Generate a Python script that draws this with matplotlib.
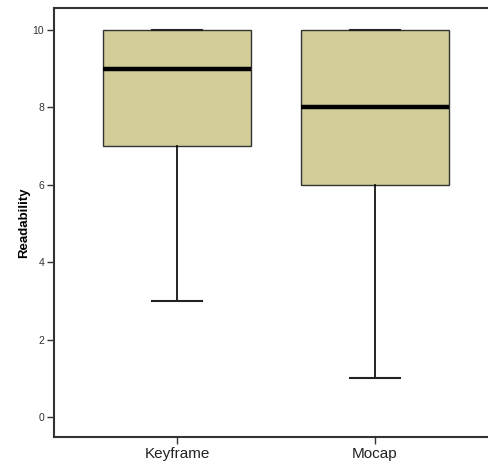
import matplotlib.pyplot as plt

plt.rcParams['font.family'] = ['Liberation Sans', 'DejaVu Sans']

groups = ['Keyframe', 'Mocap']
whislo = [3, 1]
q1 = [7, 6]
med = [9, 8]
q3 = [10, 10]
whishi = [10, 10]

stats = []
for i in range(len(groups)):
    stats.append({'label': groups[i], 'whislo': whislo[i], 'q1': q1[i],
                  'med': med[i], 'q3': q3[i], 'whishi': whishi[i], 'fliers': []})

fig = plt.figure(figsize=(4.88, 4.68), dpi=100)
ax = fig.add_axes([0.1107, 0.0662, 0.8893, 0.9168])

ax.bxp(stats, positions=[1, 2], widths=0.747, patch_artist=True, showfliers=False,
       boxprops=dict(facecolor='#d2cd98', edgecolor='#333333', linewidth=1.0),
       medianprops=dict(color='black', linewidth=3.2, solid_capstyle='butt'),
       whiskerprops=dict(color='black', linewidth=1.2),
       capprops=dict(color='#222222', linewidth=1.5),
       capwidths=0.25)

ax.set_xlim(0.379, 2.571)
ax.set_ylim(-0.52, 10.57)
ax.set_yticks([0, 2, 4, 6, 8, 10])
ax.set_xticks([1, 2])
ax.set_xticklabels(groups, fontsize=11, color='#222222')
ax.tick_params(axis='y', labelsize=7.5, colors='#333333', length=5, width=1, pad=2)
ax.tick_params(axis='x', length=5, width=1, colors='#333333', pad=2)
for lbl in ax.get_xticklabels():
    lbl.set_color('#222222')
ax.set_ylabel('Readability', fontsize=9.5, fontweight='bold', labelpad=2)

ax.spines['right'].set_visible(False)
for s in ['left', 'bottom', 'top']:
    ax.spines[s].set_color('#333333')
    ax.spines[s].set_linewidth(1.5)

fig.savefig('out.png', dpi=100)
